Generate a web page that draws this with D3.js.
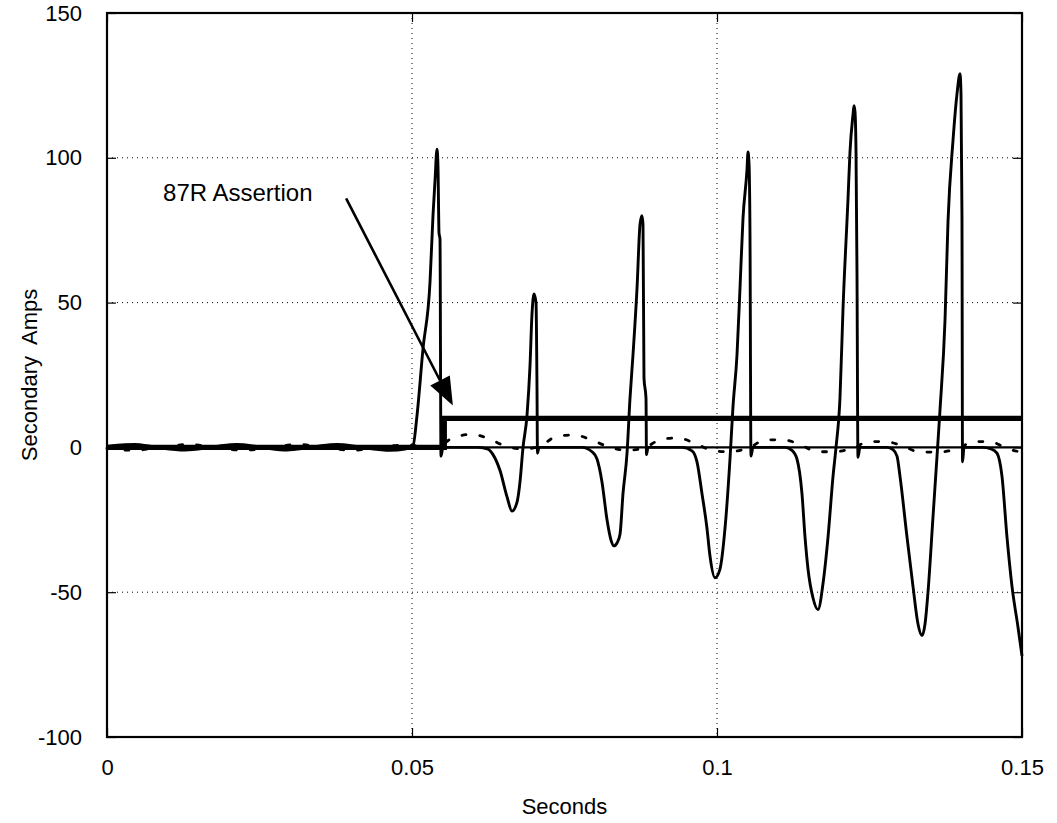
<!DOCTYPE html>
<html>
<head>
<meta charset="utf-8">
<script src="https://cdn.jsdelivr.net/npm/d3@7/dist/d3.min.js"></script>
<style>
  html, body { margin: 0; padding: 0; background: #fff; }
  svg { display: block; }
  text { font-family: "Liberation Sans", Arial, Helvetica, sans-serif; fill: #000; }
</style>
</head>
<body>
<svg id="chart" width="1057" height="823"></svg>
<script>
// ---------------- data ----------------
const xTicks = [0, 0.05, 0.1, 0.15];
const xTickLabels = ["0", "0.05", "0.1", "0.15"];
const yTicks = [-100, -50, 0, 50, 100, 150];
const yTickLabels = ["-100", "-50", "0", "50", "100", "150"];

// Secondary current (solid) : time (s) / amps
const ctTime = [0, 0.00295, 0.00459, 0.00705, 0.00918, 0.01279, 0.01607, 0.01852, 0.02131, 0.02426,
  0.02639, 0.02951, 0.03246, 0.03492, 0.0377, 0.04066, 0.04279, 0.04639, 0.04885, 0.05016,
  0.05082, 0.0518, 0.05295, 0.05344, 0.05377, 0.0541, 0.05426, 0.05443, 0.05459, 0.05475, 0.05508,
  0.06082, 0.06246, 0.06328, 0.06443, 0.06557, 0.06639, 0.06721, 0.0677, 0.0682, 0.06885, 0.06934, 0.06967,
  0.07, 0.07033, 0.07049, 0.07057, 0.07082,
  0.07787, 0.07951, 0.08033, 0.08115, 0.08197, 0.08262, 0.08311, 0.08361, 0.0841, 0.08459, 0.08525,
  0.08574, 0.08623, 0.08689, 0.08738, 0.0877, 0.08787, 0.08803, 0.08836, 0.08844, 0.08869,
  0.09426, 0.09590, 0.09672, 0.09754, 0.09836, 0.09885, 0.09967, 0.10049, 0.10131, 0.10213, 0.10262, 0.10328,
  0.10377, 0.10426, 0.10492, 0.10508, 0.10525, 0.10541, 0.10557, 0.1059,
  0.11115, 0.11230, 0.11311, 0.11393, 0.11443, 0.11492, 0.11574, 0.11656, 0.11738, 0.1182, 0.11902, 0.11951,
  0.12016, 0.12066, 0.12148, 0.1218, 0.1223, 0.12246, 0.12262, 0.12279, 0.12295, 0.12311, 0.12344,
  0.12787, 0.12885, 0.12951, 0.13, 0.13115, 0.13213, 0.13295, 0.13361, 0.1341, 0.13459, 0.13541, 0.13607,
  0.13656, 0.13738, 0.13787, 0.13869, 0.13934, 0.13984, 0.14, 0.14016, 0.14025, 0.14049,
  0.14344, 0.14492, 0.1459, 0.14672, 0.14754, 0.14836, 0.14934, 0.15];
const ctAmps = [0.3, 0.9, 1.0, 0.4, -0.3, -0.9, -0.3, 0.5, 1.0, 0.4,
  -0.3, -0.9, -0.3, 0.5, 1.0, 0.4, -0.3, -1.0, -0.6, 0.5,
  11, 34, 57, 80, 92, 103, 97, 74, 72, -3, 0,
  0, -0.6, -2.5, -8, -17, -22, -19, -12, 0, 11, 28, 46,
  53, 50, 21, -2, 0,
  0, -1.5, -4, -12, -25, -32, -34, -33, -30, -16, -2,
  17, 32, 55, 77, 80, 77, 24, 17, -2.5, 0,
  0, -1.2, -5, -16, -28, -37.5, -45, -42, -28, -4, 14, 32,
  55, 79, 96, 102, 98, 73, -3, 0,
  0, -1, -4, -16, -31, -42, -52, -56, -47, -31, -10, 0,
  17, 48, 86, 102, 115, 118, 116, 102, 60, -3.4, 0,
  0, -0.8, -3, -10, -31, -48, -61, -65, -61, -50, -24, -3,
  13, 44, 78, 106, 122, 129, 122, 80, -5, 0,
  0, -0.5, -2, -10, -31, -48, -62, -72];

// Second current (dotted)
const dotTime = [0, 0.00443, 0.00869, 0.01344, 0.01787, 0.02230, 0.02689, 0.03131, 0.03574, 0.04016,
  0.04443, 0.04885, 0.0541, 0.05672, 0.05984, 0.06279, 0.06525, 0.06803, 0.07049, 0.07377, 0.07656,
  0.07951, 0.08213, 0.08525, 0.0882, 0.09066, 0.09344, 0.09623, 0.09918, 0.10180, 0.10541, 0.10787,
  0.11082, 0.11361, 0.11639, 0.11902, 0.12262, 0.12475, 0.12754, 0.13033, 0.13328, 0.13607, 0.14,
  0.14180, 0.14475, 0.14754, 0.15];
const dotAmps = [-0.3, -1.0, 0, 1.0, 0, -1.0, 0, 1.0, 0, -1.0,
  0, 0.8, 0, 3.4, 4.5, 2.8, 0.5, -0.5, 0, 3.8, 4.3,
  2.5, 0.3, -1.0, 0, 2.6, 3.3, 1.6, -1.0, -1.5, 0, 2.6,
  2.6, 1.0, -1.5, -1.5, 0, 2.0, 2.0, 0.6, -1.6, -1.6, 0,
  2.0, 2.0, -0.4, -1.7];

// 87R trip output (thick) and reference zero trace (thin)
const relayTime = [0, 0.0553, 0.0553, 0.15];
const relayLevel = [0, 0, 10, 10];
const zeroTime = [0, 0.15];
const zeroLevel = [0, 0];

// annotation
const annText = "87R Assertion";
const annTextPos = [0.0092, 85];
const annArrowFrom = [0.0392, 86];
const annArrowTo = [0.0567, 14.5];

// ---------------- layout ----------------
const W = 1057, H = 823;
const m = { left: 107, top: 13, right: 35, bottom: 86 };
const iw = W - m.left - m.right, ih = H - m.top - m.bottom;

const svg = d3.select("#chart");
svg.append("rect").attr("width", W).attr("height", H).attr("fill", "#fff");
const g = svg.append("g").attr("transform", `translate(${m.left},${m.top})`);

const x = d3.scaleLinear().domain([0, 0.15]).range([0, iw]);
const y = d3.scaleLinear().domain([-100, 150]).range([ih, 0]);

// grid
g.append("g").selectAll("line").data(xTicks.filter(d => d > 0 && d < 0.15)).join("line")
  .attr("x1", d => x(d)).attr("x2", d => x(d)).attr("y1", 0).attr("y2", ih)
  .attr("stroke", "#000").attr("stroke-width", 1).attr("stroke-dasharray", "1,4");
g.append("g").selectAll("line").data(yTicks.filter(d => d > -100 && d < 150)).join("line")
  .attr("x1", 0).attr("x2", iw).attr("y1", d => y(d)).attr("y2", d => y(d))
  .attr("stroke", "#000").attr("stroke-width", 1).attr("stroke-dasharray", "1,4");

const zip = (a, b) => a.map((v, i) => [v, b[i]]);
const smooth = d3.line().x(d => x(d[0])).y(d => y(d[1])).curve(d3.curveMonotoneX);
const straight = d3.line().x(d => x(d[0])).y(d => y(d[1]));

// dotted series
g.append("path").datum(zip(dotTime, dotAmps)).attr("d", smooth)
  .attr("fill", "none").attr("stroke", "#000").attr("stroke-width", 2.8)
  .attr("stroke-dasharray", "4,14").attr("stroke-linecap", "round");

// zero trace
g.append("path").datum(zip(zeroTime, zeroLevel)).attr("d", straight)
  .attr("fill", "none").attr("stroke", "#000").attr("stroke-width", 2.3);

// main current
g.append("path").datum(zip(ctTime, ctAmps)).attr("d", smooth)
  .attr("fill", "none").attr("stroke", "#000").attr("stroke-width", 2.9)
  .attr("stroke-linejoin", "round");

// relay trace
g.append("path").datum(zip(relayTime, relayLevel)).attr("d", straight)
  .attr("fill", "none").attr("stroke", "#000").attr("stroke-width", 5.2)
  .attr("stroke-linejoin", "miter");

// frame
g.append("rect").attr("x", 0).attr("y", 0).attr("width", iw).attr("height", ih)
  .attr("fill", "none").attr("stroke", "#000").attr("stroke-width", 2.2);

// axes (ticks inward on all sides)
const tl = 9;
g.append("g").attr("transform", `translate(0,${ih})`)
  .call(d3.axisBottom(x).tickValues(xTicks).tickSize(-tl).tickPadding(tl + 13)
    .tickFormat((d, i) => xTickLabels[i]))
  .call(a => a.select(".domain").remove());
g.append("g")
  .call(d3.axisTop(x).tickValues(xTicks).tickSize(-tl).tickFormat(""))
  .call(a => a.select(".domain").remove());
g.append("g")
  .call(d3.axisLeft(y).tickValues(yTicks).tickSize(-tl).tickPadding(tl + 16)
    .tickFormat((d, i) => yTickLabels[i]))
  .call(a => a.select(".domain").remove());
g.append("g").attr("transform", `translate(${iw},0)`)
  .call(d3.axisRight(y).tickValues(yTicks).tickSize(-tl).tickFormat(""))
  .call(a => a.select(".domain").remove());
g.selectAll(".tick line").attr("stroke", "#000").attr("stroke-width", 1.2);
g.selectAll(".tick text").attr("font-size", 22).attr("font-family", "Liberation Sans, Arial, sans-serif").attr("fill", "#000");

// axis titles
svg.append("text").attr("x", m.left + iw / 2).attr("y", 814).attr("text-anchor", "middle")
  .attr("font-size", 22).text("Seconds");
svg.append("text").attr("transform", `translate(37,${m.top + ih / 2}) rotate(-90)`)
  .attr("text-anchor", "middle").attr("font-size", 22).text("Secondary  Amps")
  .style("white-space", "pre");

// annotation
g.append("text").attr("x", x(annTextPos[0])).attr("y", y(annTextPos[1]))
  .attr("font-size", 24).text(annText);
const fx = x(annArrowFrom[0]), fy = y(annArrowFrom[1]);
const tx = x(annArrowTo[0]), ty = y(annArrowTo[1]);
const ang = Math.atan2(ty - fy, tx - fx);
const hl = 28, hw = 11;
const bx = tx - hl * Math.cos(ang), by = ty - hl * Math.sin(ang);
g.append("line").attr("x1", fx).attr("y1", fy).attr("x2", bx).attr("y2", by)
  .attr("stroke", "#000").attr("stroke-width", 2.6);
g.append("path").attr("d", `M${tx},${ty} L${bx + hw * Math.sin(ang)},${by - hw * Math.cos(ang)} L${bx - hw * Math.sin(ang)},${by + hw * Math.cos(ang)} Z`)
  .attr("fill", "#000");
</script>
</body>
</html>
